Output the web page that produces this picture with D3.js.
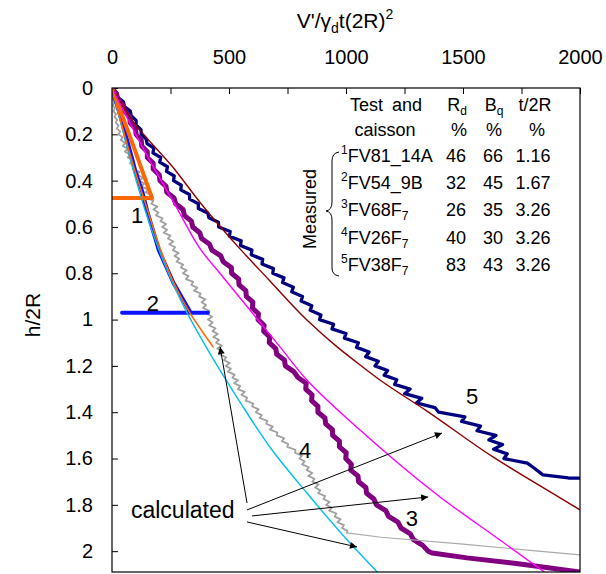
<!DOCTYPE html>
<html><head><meta charset="utf-8">
<script src="https://cdn.jsdelivr.net/npm/d3@7"></script>
<style>
body{margin:0;background:#fff;}
svg{display:block;font-family:"Liberation Sans",Arial,sans-serif;}
</style></head><body>
<svg id="c" width="606" height="574"></svg>
<script>
// ---------- axes ----------
const xTicks = [0,250,500,750,1000,1250,1500,1750,2000];
const xLabelTicks = [0,500,1000,1500,2000];
const yTicks = [0,0.2,0.4,0.6,0.8,1,1.2,1.4,1.6,1.8,2];

// ---------- measured series [V'/γd t(2R)^2 , h/2R] ----------
const measured1 = [[0,0],[86,0.235],[171,0.475],[0,0.475]];
const measured2 = [[0,0],[50,0.17],[100,0.36],[130,0.45],[150,0.53],[200,0.70],[262,0.84],[336,0.97],[410,0.97],[43,0.97]];
const measured3 = [[0,0],[19,0.025],[26,0.05],[49,0.075],[54,0.1],[76,0.125],[78,0.15],[100,0.175],[103,0.2],[125,0.225],[127,0.25],[151,0.275],[151,0.3],[176,0.325],[176,0.35],[202,0.375],[205,0.4],[231,0.425],[234,0.45],[265,0.475],[272,0.5],[304,0.525],[309,0.55],[339,0.575],[345,0.6],[375,0.625],[383,0.65],[417,0.675],[427,0.7],[465,0.725],[475,0.75],[510,0.775],[511,0.8],[541,0.825],[543,0.85],[572,0.875],[574,0.9],[602,0.925],[600,0.95],[626,0.975],[624,1.0],[650,1.025],[648,1.05],[674,1.075],[672,1.1],[700,1.125],[704,1.15],[737,1.175],[741,1.2],[777,1.225],[795,1.25],[830,1.275],[828,1.3],[855,1.325],[853,1.35],[880,1.375],[880,1.4],[910,1.425],[913,1.45],[942,1.475],[943,1.5],[972,1.525],[972,1.55],[1001,1.575],[999,1.6],[1023,1.625],[1020,1.65],[1051,1.675],[1054,1.7],[1085,1.725],[1088,1.75],[1119,1.775],[1130,1.8],[1170,1.825],[1182,1.85],[1222,1.875],[1235,1.9],[1275,1.925],[1288,1.95],[1328,1.975],[1351,2.0],[1368,2.008],[1517,2.029],[1744,2.055],[2000,2.09]];
const measured4 = [[0,0],[3,0.0125],[0,0.025],[6,0.0375],[2,0.05],[10,0.0625],[4,0.075],[12,0.0875],[6,0.1],[17,0.1125],[11,0.125],[22,0.1375],[16,0.15],[28,0.1625],[20,0.175],[35,0.1875],[27,0.2],[46,0.2125],[37,0.225],[57,0.2375],[46,0.25],[67,0.2625],[55,0.275],[77,0.2875],[67,0.3],[93,0.3125],[77,0.325],[98,0.3375],[88,0.35],[117,0.3625],[109,0.375],[133,0.3875],[116,0.4],[138,0.4125],[125,0.425],[154,0.4375],[144,0.45],[168,0.4625],[151,0.475],[177,0.4875],[168,0.5],[194,0.5125],[177,0.525],[198,0.5375],[188,0.55],[216,0.5625],[207,0.575],[231,0.5875],[214,0.6],[235,0.6125],[221,0.625],[250,0.6375],[239,0.65],[262,0.6625],[245,0.675],[270,0.6875],[260,0.7],[285,0.7125],[267,0.725],[287,0.7375],[276,0.75],[304,0.7625],[294,0.775],[319,0.7875],[303,0.8],[327,0.8125],[316,0.825],[347,0.8375],[339,0.85],[365,0.8625],[351,0.875],[379,0.8875],[372,0.9],[399,0.9125],[383,0.925],[402,0.9375],[389,0.95],[416,0.9625],[406,0.975],[428,0.9875],[410,1.0],[430,1.0125],[415,1.025],[442,1.0375],[430,1.05],[452,1.0625],[433,1.075],[457,1.0875],[445,1.1],[469,1.1125],[450,1.125],[470,1.1375],[459,1.15],[488,1.1625],[479,1.175],[503,1.1875],[486,1.2],[508,1.2125],[495,1.225],[524,1.2375],[514,1.25],[538,1.2625],[522,1.275],[548,1.2875],[538,1.3],[567,1.3125],[553,1.325],[578,1.3375],[571,1.35],[604,1.3625],[599,1.375],[627,1.3875],[614,1.4],[640,1.4125],[631,1.425],[664,1.4375],[659,1.45],[687,1.4625],[675,1.475],[707,1.4875],[704,1.5],[736,1.5125],[726,1.525],[753,1.5375],[749,1.55],[784,1.5625],[782,1.575],[812,1.5875],[801,1.6],[824,1.6125],[812,1.625],[841,1.6375],[832,1.65],[856,1.6625],[839,1.675],[865,1.6875],[856,1.7],[883,1.7125],[868,1.725],[890,1.7375],[881,1.75],[911,1.7625],[904,1.775],[930,1.7875],[915,1.8],[939,1.8125],[928,1.825],[959,1.8375],[951,1.85],[977,1.8625],[963,1.875],[991,1.8875],[983,1.9],[1006,1.9125],[1004,1.921]];
const measured4tail = [[1004,1.921],[1150,1.94],[1500,1.97],[2000,2.016]];
const measured5 = [[0,0],[20,0.02],[24,0.04],[49,0.06],[53,0.08],[78,0.1],[82,0.12],[103,0.14],[103,0.16],[124,0.18],[125,0.2],[146,0.22],[150,0.24],[179,0.26],[175,0.28],[208,0.3],[204,0.32],[237,0.34],[233,0.36],[266,0.38],[263,0.4],[296,0.42],[294,0.44],[331,0.46],[332,0.48],[369,0.5],[369,0.52],[409,0.54],[414,0.56],[455,0.58],[456,0.6],[505,0.62],[502,0.64],[552,0.66],[549,0.68],[598,0.7],[595,0.72],[644,0.74],[641,0.76],[690,0.78],[687,0.8],[735,0.82],[729,0.84],[775,0.86],[768,0.88],[814,0.9],[808,0.92],[854,0.94],[847,0.96],[893,0.98],[887,1.0],[947,1.02],[940,1.04],[1000,1.06],[993,1.08],[1053,1.1],[1045,1.12],[1099,1.14],[1084,1.16],[1138,1.18],[1124,1.2],[1178,1.22],[1163,1.24],[1217,1.26],[1208,1.28],[1274,1.3],[1251,1.32],[1324,1.34],[1301,1.36],[1380,1.38],[1396,1.4],[1508,1.42],[1494,1.44],[1575,1.46],[1560,1.48],[1641,1.5],[1611,1.52],[1669,1.54],[1631,1.56],[1689,1.58],[1675,1.6],[1775,1.62],[1802,1.64],[1828,1.66],[1842,1.671],[1950,1.684],[2000,1.685]];

// ---------- calculated series ----------
const calc1 = [[0,0],[124,0.44],[333,0.971],[432,1.118]];
const calc3 = [[0,0],[137,0.268],[282,0.527],[380,0.699],[474,0.816],[718,1.118],[833,1.261],[1060,1.477],[1402,1.766],[1658,1.952],[1859,2.098]];
const calc4 = [[0,0],[115,0.44],[141,0.527],[321,0.971],[402,1.118],[547,1.356],[684,1.563],[833,1.749],[1017,1.965],[1141,2.098]];
const calc5 = [[0,0],[98,0.155],[256,0.337],[385,0.505],[551,0.699],[671,0.829],[833,1.002],[962,1.118],[1060,1.196],[1145,1.261],[1346,1.395],[1628,1.593],[1915,1.77],[2000,1.822]];

// ---------- annotations ----------
const curveLabels = [["1",107,0.548],["2",175,0.928],["3",1282,1.857],["4",825,1.563],["5",1539,1.330]];
const calcText = [81,1.857];
const arrows = [[577,1.792,462,1.118],[577,1.822,1410,1.490],[598,1.848,1351,1.766],[577,1.874,1047,1.982]];

// ---------- legend table ----------
const testNum = ["1","2","3","4","5"];
const testCode = ["FV81_14A","FV54_9B","FV68F","FV26F","FV38F"];
const testSub = ["","","7","7","7"];
const Rd = ["46","32","26","40","83"];
const Bq = ["66","45","35","30","43"];
const tRatio = ["1.16","1.67","3.26","3.26","3.26"];

const svg = d3.select("#c");
const FONT = '"Liberation Sans", Arial, sans-serif';
const x = d3.scaleLinear().domain([0,2000]).range([112,580]);
const y = d3.scaleLinear().domain([0,2.09]).range([88,572]);

svg.append("defs").html(
 '<clipPath id="clip"><rect x="112" y="88" width="468" height="484"/></clipPath>'+
 '<marker id="ah" viewBox="0 0 10 10" refX="10" refY="5" markerWidth="10" markerHeight="7" markerUnits="userSpaceOnUse" orient="auto"><path d="M0,0L10,5L0,10z" fill="#000"/></marker>');

// axes
const gx = svg.append("g").attr("transform","translate(0,88)")
  .call(d3.axisTop(x).tickValues(xTicks).tickSize(-6).tickPadding(24)
    .tickFormat(d => xLabelTicks.includes(d) ? String(d) : ""));
const gy = svg.append("g").attr("transform","translate(112,0)")
  .call(d3.axisLeft(y).tickValues(yTicks).tickSize(-6).tickPadding(19)
    .tickFormat(d => String(d)));
[gx,gy].forEach(g=>{
  g.select(".domain").remove();
  g.attr("font-size",20).attr("font-family",FONT);
  g.selectAll("text").attr("fill","#000");
  g.selectAll("line").attr("stroke","#000");
});

// lines
const line = d3.line().x(d=>x(d[0])).y(d=>y(d[1]));
const smooth = d3.line().x(d=>x(d[0])).y(d=>y(d[1])).curve(d3.curveMonotoneY);
const plot = svg.append("g").attr("clip-path","url(#clip)");
function draw(data, gen, color, w){
  plot.append("path").attr("d",gen(data)).attr("fill","none").attr("stroke",color)
    .attr("stroke-width",w).attr("stroke-linejoin","round").attr("stroke-linecap","round");
}
draw(measured5, line, "#000080", 3.3);
draw(measured3, line, "#800080", 5);
draw(measured4tail, line, "#aaaaaa", 1.2);
draw(measured4, line, "#a0a0a0", 1.8);
draw(measured2, line, "#0a14ff", 4);
draw(measured1, line, "#ff6600", 4);
draw(calc5, smooth, "#8b0000", 1.4);
draw(calc3, smooth, "#ff00ff", 1.4);
draw(calc4, smooth, "#00bfef", 1.4);
draw(calc1, smooth, "#ff6600", 1.6);

// frame
svg.append("rect").attr("x",112).attr("y",88).attr("width",468).attr("height",484)
  .attr("fill","none").attr("stroke","#000").attr("stroke-width",1.2);

// title
const title = svg.append("text").attr("x",345).attr("y",28).attr("text-anchor","middle")
  .attr("font-size",21).attr("font-family",FONT);
title.append("tspan").text("V'/γ");
title.append("tspan").attr("font-size",14).attr("dy",5).text("d");
title.append("tspan").attr("dy",-5).text("t(2R)");
title.append("tspan").attr("font-size",14).attr("dy",-9).text("2");

svg.append("text").attr("transform","translate(40,315) rotate(-90)").attr("text-anchor","middle")
  .attr("font-size",21).attr("font-family",FONT).text("h/2R");

// curve labels
svg.selectAll(".cl").data(curveLabels).enter().append("text")
  .attr("x",d=>x(d[1])).attr("y",d=>y(d[2])).attr("dy","0.35em").attr("text-anchor","middle")
  .attr("font-size",22).attr("font-family",FONT).text(d=>d[0]);
svg.append("text").attr("x",x(calcText[0])).attr("y",y(calcText[1]))
  .attr("font-size",23).attr("font-family",FONT).text("calculated");
svg.selectAll(".ar").data(arrows).enter().append("line")
  .attr("x1",d=>x(d[0])).attr("y1",d=>y(d[1])).attr("x2",d=>x(d[2])).attr("y2",d=>y(d[3]))
  .attr("stroke","#000").attr("stroke-width",1).attr("marker-end","url(#ah)");

// legend
const lg = svg.append("g").attr("font-size",18).attr("font-family",FONT);
lg.append("text").attr("x",386).attr("y",111).attr("text-anchor","middle").attr("word-spacing",4).text("Test and");
const rdH = lg.append("text").attr("x",457).attr("y",111).attr("text-anchor","middle");
rdH.append("tspan").text("R"); rdH.append("tspan").attr("font-size",12).attr("dy",4).text("d");
const bqH = lg.append("text").attr("x",494).attr("y",111).attr("text-anchor","middle");
bqH.append("tspan").text("B"); bqH.append("tspan").attr("font-size",12).attr("dy",4).text("q");
lg.append("text").attr("x",535).attr("y",111).attr("text-anchor","middle").text("t/2R");
lg.append("text").attr("x",385).attr("y",136).attr("text-anchor","middle").text("caisson");
[459,494,537].forEach(cx=>lg.append("text").attr("x",cx).attr("y",136).attr("text-anchor","middle").text("%"));
testNum.forEach((n,i)=>{
  const yy = 162 + i*27.2;
  const t = lg.append("text").attr("x",341).attr("y",yy);
  t.append("tspan").attr("font-size",12).attr("dy",-8).text(n);
  t.append("tspan").attr("dy",8).text(testCode[i]);
  if(testSub[i]) t.append("tspan").attr("font-size",12).attr("dy",4).text(testSub[i]);
  lg.append("text").attr("x",456).attr("y",yy).attr("text-anchor","middle").text(Rd[i]);
  lg.append("text").attr("x",493).attr("y",yy).attr("text-anchor","middle").text(Bq[i]);
  lg.append("text").attr("x",533).attr("y",yy).attr("text-anchor","middle").text(tRatio[i]);
});
lg.append("text").attr("transform","translate(316,209) rotate(-90)").attr("text-anchor","middle").text("Measured");
svg.append("path").attr("d","M339,152 Q332,153 332,161 L332,202 Q332,210 326,211 Q332,212 332,220 L332,268 Q332,275 339,276")
  .attr("fill","none").attr("stroke","#000").attr("stroke-width",1);
</script>
</body></html>
